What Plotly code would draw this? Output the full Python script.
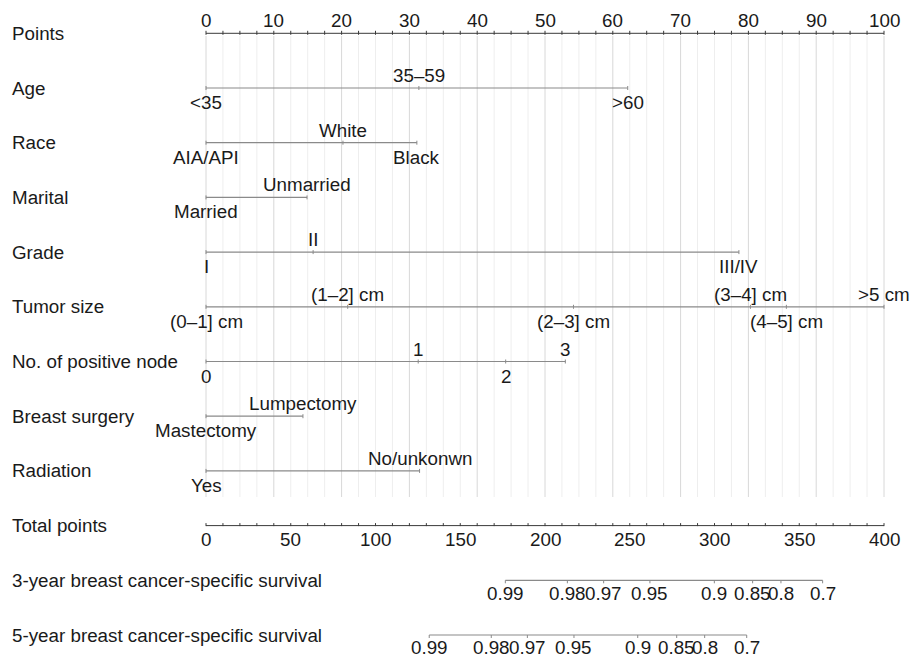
import plotly.graph_objects as go

# ---------------- data ----------------
points_ticks = list(range(0, 101, 10))
points_minor_step = 2.5

row_names = ["Points", "Age", "Race", "Marital", "Grade", "Tumor size",
             "No. of positive node", "Breast surgery", "Radiation",
             "Total points", "3-year breast cancer-specific survival",
             "5-year breast cancer-specific survival"]

age_labels = ["<35", "35–59", ">60"]
age_points = [0, 31.4, 62.2]
race_labels = ["AIA/API", "White", "Black"]
race_points = [0, 20.2, 31.1]
marital_labels = ["Married", "Unmarried"]
marital_points = [0, 14.9]
grade_labels = ["I", "II", "III/IV"]
grade_points = [0, 15.8, 78.6]
tumor_labels = ["(0–1] cm", "(1–2] cm", "(2–3] cm", "(3–4] cm", "(4–5] cm", ">5 cm"]
tumor_points = [0, 20.9, 54.2, 80.3, 85.6, 100]
node_labels = ["0", "1", "2", "3"]
node_points = [0, 31.3, 44.2, 53.0]
surgery_labels = ["Mastectomy", "Lumpectomy"]
surgery_points = [0, 14.3]
radiation_labels = ["Yes", "No/unkonwn"]
radiation_points = [0, 31.5]

total_ticks = list(range(0, 401, 50))
total_minor_step = 10

surv_labels = ["0.99", "0.98", "0.97", "0.95", "0.9", "0.85", "0.8", "0.7"]
surv3_total = [176.6, 213.2, 234.6, 261.9, 299.9, 322.5, 339.2, 363.8]
surv5_total = [131.7, 168.3, 189.6, 217.1, 254.7, 277.7, 294.2, 319.0]

# ---------------- layout geometry ----------------
W, H = 912, 657
PX0, PX100 = 206, 884
ppp = (PX100 - PX0) / 100.0
X0 = -PX0 / ppp
X1 = X0 + W / ppp
ROW_Y0, ROW_STEP = 33.3, 54.7
row_y = [ROW_Y0 + i * ROW_STEP for i in range(len(row_names))]

FONT = "Liberation Sans, Arial, Helvetica, sans-serif"
FS = 18.8
TXT = "#1a1a1a"
AX_COL = "#3a3a3a"
CAT_COL = "#8a8a8a"
GRID_MAJ = "#d8d8d8"
GRID_MIN = "#eeeeee"
GRID_TOP, GRID_BOT = 36, 497
ABOVE, BELOW = -12.5, 14.5

fig = go.Figure()
annotations = []


def segs(pairs, color, width, xaxis="x"):
    xs, ys = [], []
    for (xa, ya, xb, yb) in pairs:
        xs += [xa, xb, None]
        ys += [ya, yb, None]
    fig.add_trace(go.Scatter(x=xs, y=ys, mode="lines", xaxis=xaxis, yaxis="y",
                             line=dict(color=color, width=width),
                             hoverinfo="skip", showlegend=False))


def text(x, y, s, xref="x", xanchor="center"):
    annotations.append(dict(x=x, y=y, xref=xref, yref="y", text=s,
                            showarrow=False, xanchor=xanchor, yanchor="middle",
                            font=dict(family=FONT, size=FS, color=TXT)))


# grid lines
n_minor = int(100 / points_minor_step)
minor = [i * points_minor_step for i in range(n_minor + 1)]
segs([(v, GRID_TOP, v, GRID_BOT) for v in minor if v % 10 != 0], GRID_MIN, 1)
segs([(v, GRID_TOP, v, GRID_BOT) for v in points_ticks], GRID_MAJ, 1)

# row labels (x given in pixels, converted to paper fraction)
for name, y in zip(row_names, row_y):
    annotations.append(dict(x=10 / W, y=y, xref="paper", yref="y", text=name,
                            showarrow=False, xanchor="left", yanchor="middle",
                            font=dict(family=FONT, size=FS, color=TXT)))

# Points axis
yp = row_y[0]
segs([(0, yp, 100, yp)], AX_COL, 1)
segs([(v, yp - 2.5, v, yp + 1.5) for v in minor], AX_COL, 1)
for v in points_ticks:
    text(v, yp + ABOVE - 0.5, str(v))

# categorical rows
cat_rows = [
    (age_labels, age_points),
    (race_labels, race_points),
    (marital_labels, marital_points),
    (grade_labels, grade_points),
    (tumor_labels, tumor_points),
    (node_labels, node_points),
    (surgery_labels, surgery_points),
    (radiation_labels, radiation_points),
]
for i, (labs, pts) in enumerate(cat_rows):
    y = row_y[i + 1]
    segs([(min(pts), y, max(pts), y)], CAT_COL, 1.2)
    segs([(p, y - 2, p, y + 2) for p in pts], CAT_COL, 1)
    for k, (lab, p) in enumerate(zip(labs, pts)):
        text(p, y + (BELOW if k % 2 == 0 else ABOVE), lab)

# Total points axis (own scale)
yt = row_y[9]
tmin = [i * total_minor_step for i in range(int(400 / total_minor_step) + 1)]
segs([(0, yt, 400, yt)], AX_COL, 1, xaxis="x2")
segs([(v, yt - 2.5, v, yt + 0.5) for v in tmin], AX_COL, 1, xaxis="x2")
for v in total_ticks:
    text(v, yt + 13.5, str(v), xref="x2")

# survival axes
for vals, y in ((surv3_total, row_y[10]), (surv5_total, row_y[11])):
    segs([(min(vals), y, max(vals), y)], CAT_COL, 1.2, xaxis="x2")
    segs([(v, y, v, y + 3) for v in vals], CAT_COL, 1, xaxis="x2")
    for lab, v in zip(surv_labels, vals):
        text(v, y + 12.8, lab, xref="x2")

fig.update_layout(
    width=W, height=H,
    margin=dict(l=0, r=0, t=0, b=0),
    paper_bgcolor="white", plot_bgcolor="white",
    showlegend=False,
    xaxis=dict(range=[X0, X1], visible=False, showgrid=False, zeroline=False, fixedrange=True),
    xaxis2=dict(range=[X0 * 4, X1 * 4], overlaying="x", visible=False,
                showgrid=False, zeroline=False, fixedrange=True),
    yaxis=dict(range=[H, 0], visible=False, showgrid=False, zeroline=False, fixedrange=True),
    annotations=annotations,
    font=dict(family=FONT, size=FS, color=TXT),
)

fig.write_html("out.html", config={"displayModeBar": False})
